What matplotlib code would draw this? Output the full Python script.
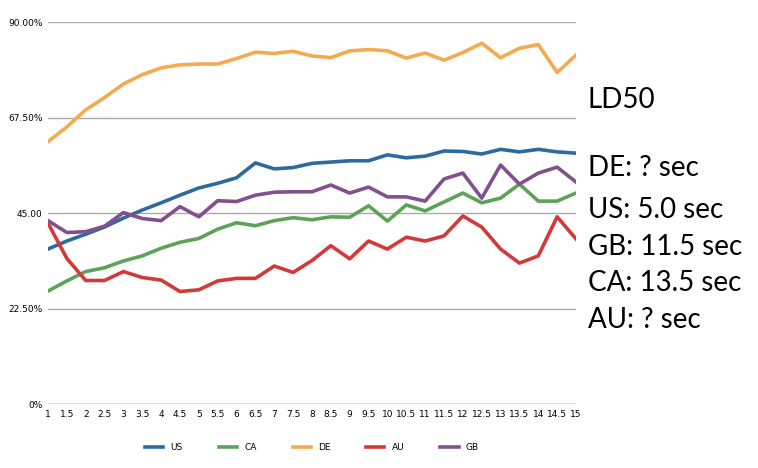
import matplotlib
matplotlib.use('Agg')
import matplotlib.pyplot as plt

xs = [1 + 0.5 * i for i in range(29)]
us = [36.5, 38.4, 40, 41.7, 43.8, 45.7, 47.4, 49.2, 50.9, 52, 53.3, 56.8, 55.4, 55.7, 56.7, 57,
      57.3, 57.3, 58.7, 58, 58.4, 59.6, 59.5, 58.9, 60, 59.4, 60, 59.4, 59.1]
ca = [26.6, 29, 31.2, 32.1, 33.7, 34.9, 36.7, 38.1, 39, 41.2, 42.7, 42, 43.2, 43.9, 43.4, 44.1,
      44, 46.7, 43.1, 46.9, 45.5, 47.6, 49.7, 47.4, 48.5, 51.8, 47.8, 47.8, 49.7]
de = [61.8, 65.3, 69.3, 72.2, 75.4, 77.6, 79.2, 79.9, 80.1, 80.1, 81.4, 82.9, 82.6, 83.1, 82, 81.6,
      83.2, 83.5, 83.2, 81.5, 82.7, 81, 82.8, 85, 81.6, 83.8, 84.7, 78.1, 82.2]
au = [42.6, 34.3, 29.1, 29.1, 31.2, 29.8, 29.2, 26.5, 26.9, 29, 29.6, 29.6, 32.5, 31, 33.8, 37.3,
      34.2, 38.4, 36.5, 39.3, 38.4, 39.6, 44.3, 41.7, 36.5, 33.2, 34.9, 44.1, 38.9]
gb = [43.2, 40.4, 40.6, 41.9, 45.1, 43.7, 43.2, 46.5, 44.1, 47.9, 47.7, 49.2, 49.9, 50, 50, 51.6,
      49.7, 51.1, 48.8, 48.8, 47.8, 53, 54.4, 48.5, 56.3, 51.8, 54.4, 55.8, 52.3]
series = [('US', us, '#2e6a9e'), ('CA', ca, '#5ea25a'), ('DE', de, '#f4ab50'),
          ('AU', au, '#d23a3a'), ('GB', gb, '#82508e')]
yticks = [0, 22.5, 45, 67.5, 90]
ylabels = ['0%', '22.50%', '45.00', '67.50%', '90.00%']
notes = ['LD50', '', 'DE: ? sec', 'US: 5.0 sec', 'GB: 11.5 sec', 'CA: 13.5 sec', 'AU: ? sec']

fig = plt.figure(figsize=(7.58, 4.68), dpi=100)
ax = fig.add_axes([48 / 758, 1 - 404 / 468, 528 / 758, 382 / 468])
for name, vals, col in series:
    ax.plot(xs, vals, color=col, lw=2.6, label=name)
ax.set_xlim(1, 15)
ax.set_ylim(0, 90)
ax.set_yticks(yticks)
ax.set_yticklabels(ylabels)
ax.set_xticks(xs)
ax.set_xticklabels([('%g' % x) for x in xs])
ax.tick_params(labelsize=6.5, length=0, pad=4)
ax.grid(axis='y', color='#aaaaaa', lw=1)
for s in ax.spines.values():
    s.set_visible(False)
ax.axhline(0, color='#aaaaaa', lw=1)
ax.legend(loc='upper center', bbox_to_anchor=(0.5, -0.08), ncol=5, frameon=False,
          fontsize=6.5, handlelength=2, columnspacing=4)

ys = [100, 0, 168, 210, 247, 283, 320]
for t, y in zip(notes, ys):
    if t:
        fig.text(588 / 758, 1 - y / 468, t, fontsize=20, family='Lato', va='center')

fig.savefig('out.png')
